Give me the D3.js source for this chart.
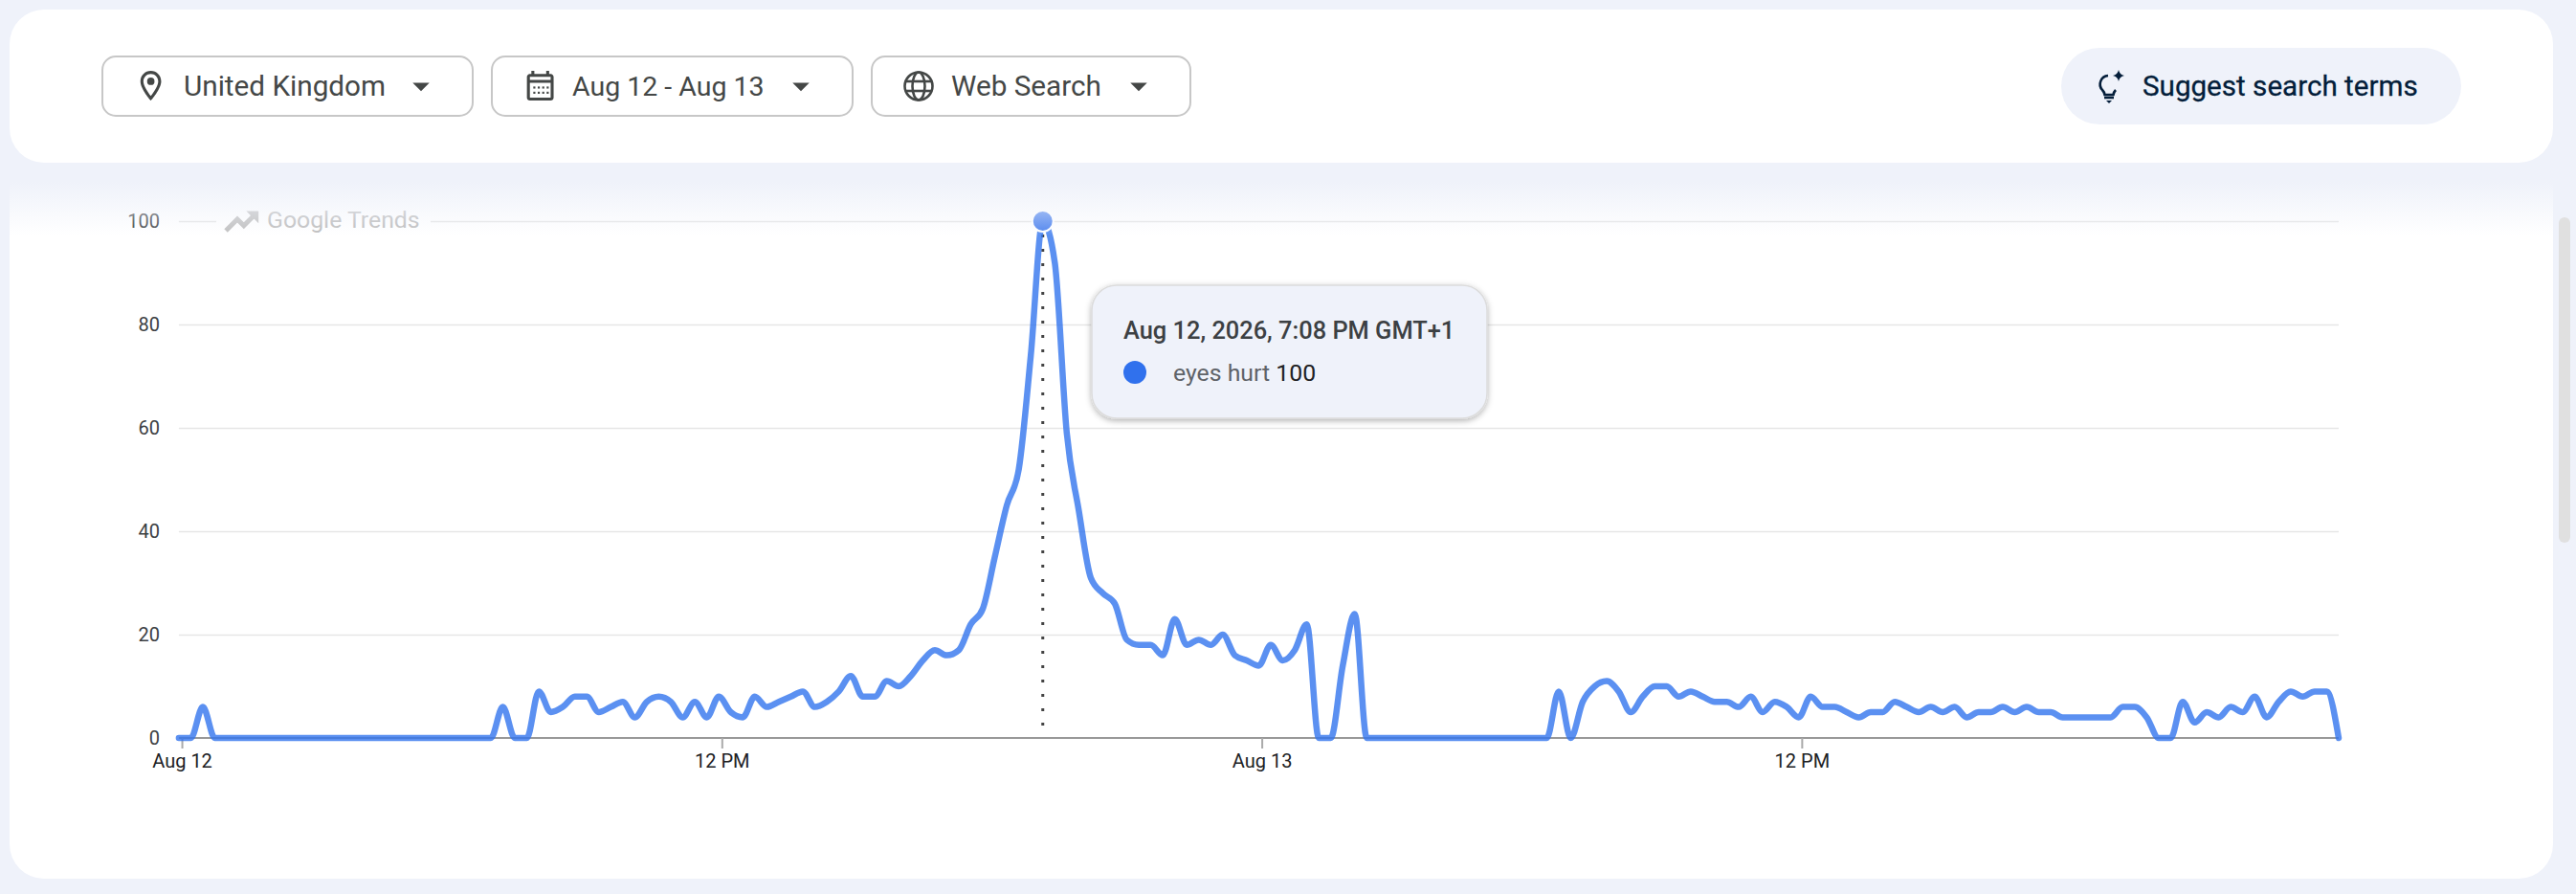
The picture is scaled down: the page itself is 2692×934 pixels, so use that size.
<!DOCTYPE html>
<html>
<head>
<meta charset="utf-8">
<script src="https://cdn.jsdelivr.net/npm/d3@7"></script>
<style>
  html, body { margin: 0; padding: 0; background: #eff2fa; overflow: hidden; }
  text { font-family: Roboto, "Noto Sans", sans-serif; }
</style>
</head>
<body>
<div id="chart"></div>
<script>
// eyes hurt, 16 minute samples from Aug 11 23:56 on
const seriesName = "eyes hurt";
const sampleMinutes = 16;
const values = [
  0, 0, 6, 0, 0, 0, 0, 0, 0, 0, 0, 0, 0, 0, 0, 0, 0, 0, 0, 0,
  0, 0, 0, 0, 0, 0, 0, 6, 0, 0, 9, 5, 6, 8, 8, 5, 6, 7, 4, 7,
  8, 7, 4, 7, 4, 8, 5, 4, 8, 6, 7, 8, 9, 6, 7, 9, 12, 8, 8, 11,
  10, 12, 15, 17, 16, 17, 22, 25, 35, 45, 52, 74, 100, 92, 59, 44, 31, 28, 26, 19,
  18, 18, 16, 23, 18, 19, 18, 20, 16, 15, 14, 18, 15, 17, 22, 0, 0, 14, 24, 0,
  0, 0, 0, 0, 0, 0, 0, 0, 0, 0, 0, 0, 0, 0, 0, 9, 0, 7, 10, 11,
  9, 5, 8, 10, 10, 8, 9, 8, 7, 7, 6, 8, 5, 7, 6, 4, 8, 6, 6, 5,
  4, 5, 5, 7, 6, 5, 6, 5, 6, 4, 5, 5, 6, 5, 6, 5, 5, 4, 4, 4,
  4, 4, 6, 6, 4, 0, 0, 7, 3, 5, 4, 6, 5, 8, 4, 7, 9, 8, 9, 9,
  0
];
const yTicks = [0, 20, 40, 60, 80, 100];
const xTickHours = [0, 12, 24, 36];
const xTickLabels = ["Aug 12", "12 PM", "Aug 13", "12 PM"];
const peakIndex = 72;
const tooltipTitle = "Aug 12, 2026, 7:08 PM GMT+1";
const filterLabels = ["United Kingdom", "Aug 12 - Aug 13", "Web Search"];
const suggestLabel = "Suggest search terms";
const watermark = "Google Trends";

const W = 2692, H = 934;
const plot = { left: 186.9, right: 2444, top: 231, bottom: 771 };
const startTime = Date.UTC(2026, 7, 11, 23, 56);
const midnight = Date.UTC(2026, 7, 12);
const timeOf = i => new Date(startTime + i * sampleMinutes * 60000);

const svg = d3.select("#chart").append("svg")
  .attr("width", W).attr("height", H)
  .style("display", "block");

const defs = svg.append("defs");
const fade = defs.append("linearGradient").attr("id", "fade")
  .attr("x1", 0).attr("x2", 0).attr("y1", 0).attr("y2", 1);
fade.append("stop").attr("offset", 0).attr("stop-color", "#eff2fa").attr("stop-opacity", 1);
fade.append("stop").attr("offset", 1).attr("stop-color", "#eff2fa").attr("stop-opacity", 0);
const shadow = defs.append("filter").attr("id", "tipShadow")
  .attr("x", "-10%").attr("y", "-15%").attr("width", "120%").attr("height", "135%");
shadow.append("feDropShadow").attr("dx", 0).attr("dy", 2).attr("stdDeviation", 3)
  .attr("flood-color", "#000").attr("flood-opacity", 0.3);

// page cards
svg.append("path").attr("fill", "#fff")
  .attr("d", "M10,190H2668V882a36,36 0 0 1 -36,36H46a36,36 0 0 1 -36,-36Z");
svg.append("rect").attr("x", 10).attr("y", 10).attr("width", 2658).attr("height", 160)
  .attr("rx", 36).attr("fill", "#fff");

// scales
const xScale = d3.scaleUtc()
  .domain([timeOf(0), timeOf(values.length - 1)])
  .range([plot.left, plot.right]);
const yScale = d3.scaleLinear().domain([0, 100]).range([plot.bottom, plot.top]);

// y axis and grid
const yAxis = d3.axisLeft(yScale).tickValues(yTicks).tickSize(0).tickPadding(20);
const yG = svg.append("g").attr("transform", `translate(${plot.left},0)`).call(yAxis);
yG.select(".domain").remove();
yG.selectAll("text").style("font-size", "20px").attr("fill", "#3c4043");
yG.selectAll(".tick line")
  .attr("x2", plot.right - plot.left)
  .attr("stroke", d => d === 0 ? "none" : "#e6e6e6")
  .attr("stroke-width", 1.7);

// watermark sits on a gap in the top grid line
svg.append("rect").attr("x", 226).attr("y", 218).attr("width", 224).attr("height", 26).attr("fill", "#fff");
svg.append("path")
  .attr("transform", "translate(232,211) scale(1.7)")
  .attr("fill", "#c0c0c0").attr("stroke", "#c0c0c0").attr("stroke-width", 0.9)
  .attr("d", "M16 6l2.29 2.29-4.88 4.88-4-4L2 16.59 3.41 18l6-6 4 4 6.3-6.29L22 12V6z");
svg.append("text").attr("x", 279).attr("y", 238)
  .attr("fill", "#bdbdbd").style("font-size", "24.8px").text(watermark);

// x axis
const xAxis = d3.axisBottom(xScale)
  .tickValues(xTickHours.map(h => new Date(midnight + h * 3600000)))
  .tickFormat((d, i) => xTickLabels[i])
  .tickSize(11).tickPadding(6);
const xG = svg.append("g").attr("transform", `translate(0,${plot.bottom})`).call(xAxis);
xG.select(".domain").attr("stroke", "#999").attr("stroke-width", 2)
  .attr("d", `M${plot.left},0H${plot.right}`);
xG.selectAll(".tick line").attr("stroke", "#aaa").attr("stroke-width", 2);
xG.selectAll("text").style("font-size", "20px").attr("fill", "#202124");

// dotted hover line
const peakX = xScale(timeOf(peakIndex));
svg.append("line")
  .attr("x1", peakX).attr("x2", peakX)
  .attr("y1", yScale(values[peakIndex]) + 14).attr("y2", plot.bottom - 12)
  .attr("stroke", "#444").attr("stroke-width", 3)
  .attr("stroke-dasharray", "3,12");

// the line
const line = d3.line()
  .x((d, i) => xScale(timeOf(i)))
  .y(d => yScale(d))
  .curve(d3.curveMonotoneX);
svg.append("path")
  .datum(values)
  .attr("d", line)
  .attr("fill", "none")
  .attr("stroke", "#3274ee")
  .attr("stroke-opacity", 0.8)
  .attr("stroke-width", 6.5)
  .attr("stroke-linecap", "round")
  .attr("stroke-linejoin", "round");

// peak marker
svg.append("circle")
  .attr("cx", peakX).attr("cy", yScale(values[peakIndex]))
  .attr("r", 11).attr("fill", "#4f84ee")
  .attr("stroke", "#fff").attr("stroke-width", 2);

// fade under the filter bar, over the top of the chart
svg.append("rect").attr("x", 10).attr("y", 190).attr("width", 2658).attr("height", 56)
  .attr("fill", "url(#fade)");

// tooltip
const tip = svg.append("g");
tip.append("rect").attr("x", 1141).attr("y", 298).attr("width", 413).attr("height", 139)
  .attr("rx", 26).attr("fill", "#eff2fa").attr("stroke", "#dcdcdc").attr("stroke-width", 1.5)
  .attr("filter", "url(#tipShadow)");
tip.append("text").attr("x", 1174).attr("y", 354)
  .attr("fill", "#3c4043").style("font-size", "25.4px").style("font-weight", 500)
  .text(tooltipTitle);
tip.append("circle").attr("cx", 1186).attr("cy", 389).attr("r", 12).attr("fill", "#3071ed");
const tipText = tip.append("text").attr("x", 1226).attr("y", 398).style("font-size", "24.8px");
tipText.append("tspan").attr("fill", "#5f6368").text(seriesName + " ");
tipText.append("tspan").attr("fill", "#202124").text(values[peakIndex]);

// filter buttons
const buttons = [
  { x: 106, w: 389, textX: 192, arrowX: 440, size: 29.7 },
  { x: 513, w: 379, textX: 598, arrowX: 837, size: 28.5 },
  { x: 910, w: 335, textX: 994, arrowX: 1190, size: 29.7 }
];
const btn = svg.selectAll("g.btn").data(buttons).join("g").attr("class", "btn");
btn.append("rect")
  .attr("x", d => d.x + 1).attr("y", 59).attr("width", d => d.w - 2).attr("height", 62)
  .attr("rx", 14).attr("fill", "#fff").attr("stroke", "#c7c7c7").attr("stroke-width", 2);
btn.append("text")
  .attr("x", d => d.textX).attr("y", 100)
  .attr("fill", "#444746").style("font-size", d => d.size + "px")
  .text((d, i) => filterLabels[i]);
btn.append("path")
  .attr("transform", d => `translate(${d.arrowX - 21},69) scale(1.75)`)
  .attr("fill", "#444746").attr("d", "M7 10l5 5 5-5z");

const iconColor = "#444746";
// pin
const pin = svg.append("g").attr("transform", "translate(139,71) scale(1.55)").attr("fill", iconColor);
pin.append("path").attr("d", "M12 2C8.13 2 5 5.13 5 9c0 5.25 7 13 7 13s7-7.75 7-13c0-3.87-3.13-7-7-7zM7 9c0-2.76 2.24-5 5-5s5 2.24 5 5c0 2.88-2.88 7.19-5 9.88C9.92 16.21 7 11.85 7 9z");
pin.append("circle").attr("cx", 12).attr("cy", 9).attr("r", 2.5);
// calendar
const cal = svg.append("g").attr("transform", "translate(546,71) scale(1.55)").attr("fill", iconColor);
cal.append("path").attr("d", "M19 4h-1V2h-2v2H8V2H6v2H5c-1.1 0-2 .9-2 2v14c0 1.1.9 2 2 2h14c1.1 0 2-.9 2-2V6c0-1.1-.9-2-2-2zm0 16H5V10h14v10zm0-12H5V6h14v2z");
cal.selectAll("rect").data(d3.cross([8, 11, 14, 17], [12.5, 16])).join("rect")
  .attr("x", d => d[0] - 0.7).attr("y", d => d[1]).attr("width", 1.4).attr("height", 1.4);
// globe
const globe = svg.append("g").attr("transform", "translate(960,90)")
  .attr("fill", "none").attr("stroke", iconColor).attr("stroke-width", 2.6);
globe.append("circle").attr("r", 14.5);
globe.append("ellipse").attr("rx", 6.5).attr("ry", 14.5);
globe.append("line").attr("x1", -14).attr("x2", 14).attr("y1", -5).attr("y2", -5);
globe.append("line").attr("x1", -14).attr("x2", 14).attr("y1", 5).attr("y2", 5);

// suggest button
svg.append("rect").attr("x", 2154).attr("y", 50).attr("width", 418).attr("height", 80)
  .attr("rx", 40).attr("fill", "#eff2fa");
svg.append("text").attr("x", 2239).attr("y", 100)
  .attr("fill", "#041e3a").style("font-size", "29.6px").style("font-weight", 400)
  .attr("stroke", "#041e3a").attr("stroke-width", 0.3)
  .text(suggestLabel);
const bulb = svg.append("g").attr("transform", "translate(2204,92)").attr("fill", "none")
  .attr("stroke", "#041e3a").attr("stroke-width", 2.6);
bulb.append("path").attr("d", "M-1,-13A9,9 0 0 0 -7,2Q-5,4 -4.5,7H4.5Q5,4 7,2");
bulb.append("line").attr("x1", -5).attr("x2", 5).attr("y1", 10).attr("y2", 10);
bulb.append("path").attr("stroke", "none").attr("fill", "#041e3a").attr("d", "M-3,13H3L0,16Z");
bulb.append("path").attr("stroke", "none").attr("fill", "#041e3a")
  .attr("d", "M10,-19Q11,-14 16,-13Q11,-12 10,-7Q9,-12 4,-13Q9,-14 10,-19Z");

// scrollbar
svg.append("rect").attr("x", 2674).attr("y", 227).attr("width", 12).attr("height", 340)
  .attr("rx", 6).attr("fill", "#e0e0e0");
</script>
</body>
</html>
